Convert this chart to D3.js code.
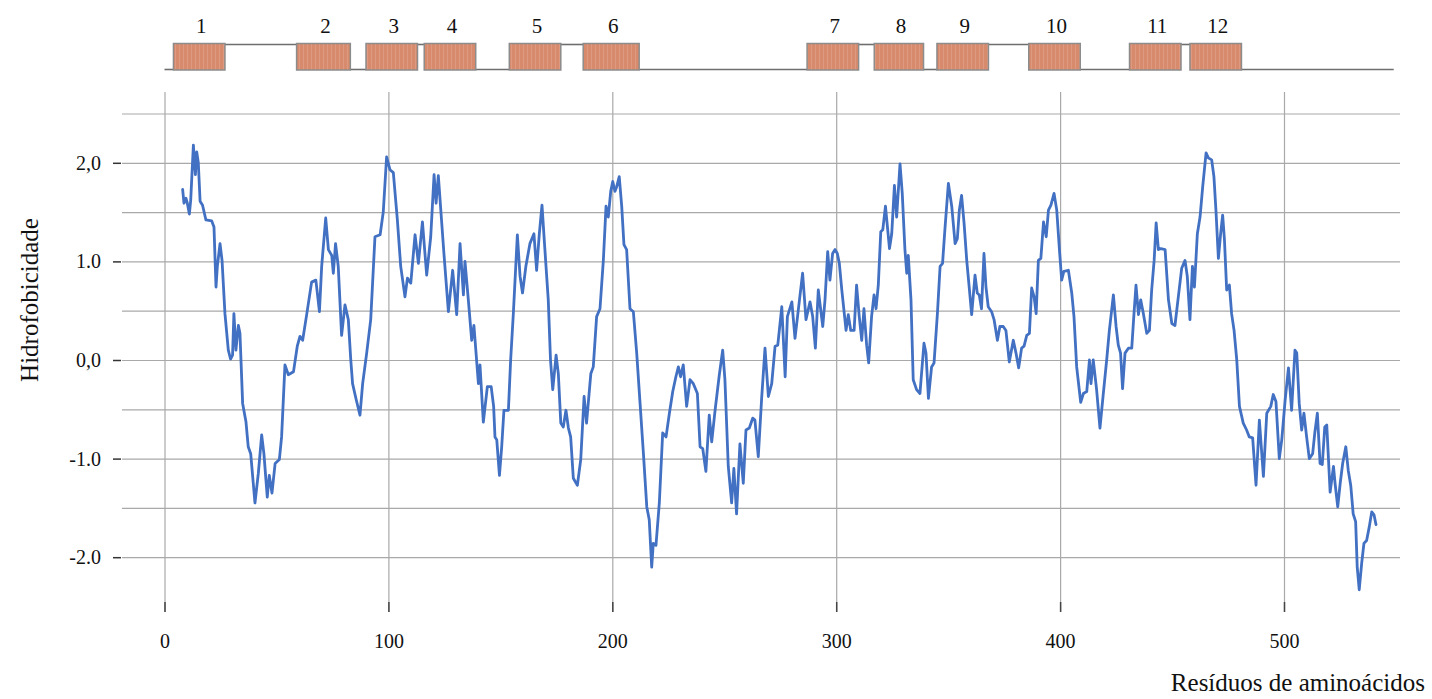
<!DOCTYPE html>
<html><head><meta charset="utf-8">
<script src="https://cdn.jsdelivr.net/npm/d3@7"></script>
<style>body{margin:0;background:#fff}svg{display:block}</style>
</head><body><svg id="c" width="1432" height="699"></svg>
<script>
// ---- data ----
const residues = [8.1,8.7,9.6,10.2,11.1,11.7,12.9,13.8,14.4,15.1,15.9,17,18.5,21.1,22.1,23,23.6,24.8,25.7,27,28.5,29.5,30.4,31,31.9,33,33.7,34.9,36.4,37.4,38.5,40.4,41.9,43.4,44.4,45.9,46.8,48,49.4,51.3,52.3,53.8,55.3,57.6,59.3,60.5,61.7,63.5,65.7,67.6,69.2,70.2,72,73.2,74.7,75.4,76.4,77.6,79.1,80.6,82.1,83.2,84,85.5,87.3,88.5,90.3,92.1,94,96.3,97.7,99.2,100.7,102.2,104,105.5,107.4,108.5,110,111.9,113.4,115.2,117.1,118.9,120.4,121.3,122.3,124.8,126.8,128.7,130.5,132,133.5,134.2,135.7,137.2,138.2,140.2,
140.9,142.4,144.2,145.9,147,147.6,148.4,149.6,150.6,151.6,153.6,154.6,155.8,157.6,158.8,159.9,161.4,163.2,165,166.2,167.4,168.6,169.6,171.4,172.4,173.4,174.9,175.9,177,178.1,179.3,180.4,181.4,182.6,184.4,185.9,187.4,188.5,190.4,191.5,193,194.5,196,197.2,198.2,199.3,200.2,201.2,202,203.1,204.2,205.2,206.4,207.9,209.4,210.9,212.4,213.9,215.4,216.5,217.6,218.3,219.5,221,222.5,224,225.5,227,228.4,229.5,230.5,231.7,233.2,234.7,236.2,238,239.2,240.4,241.8,243.3,244.4,245.9,247.8,249.3,250.3,251.8,253.3,254.3,255.5,257,258.5,259.7,261.2,262.7,263.7,265.2,266.7,268.2,269.7,271.2,272.7,273.9,275.7,277.2,278.2,280.2,281.6,283.6,
285,286.5,288.3,289.5,290.7,292,294,295,296.2,297.2,298.4,299.5,300.5,301.4,302.5,304.4,305.4,306.5,308,309.1,310.3,311.4,312.4,313.6,314.5,315.8,316.9,317.8,318.8,319.9,320.8,322,323.8,324.8,326,327,328.5,329.5,330.7,331.5,332.2,333.4,334.4,335.9,337.4,339.2,340.1,341.2,342.6,343.7,345.2,346.4,347.5,348.6,350.1,351.6,353.1,354.1,355,356,357.1,358.3,359.4,360.5,362,363,363.9,364.9,366,366.9,367.9,369.4,370.5,372,373.1,374.6,375.8,377.3,379.1,380.3,381.5,382.8,383.9,385.1,386.3,387.3,388.4,389.3,390.3,391.4,392.6,393.8,394.8,395.9,397.3,398.5,399.7,400.7,401.7,403.7,405.2,406.2,407.4,409.2,410.4,411.9,413.1,413.8,414.8,416.3,
417.8,419.3,420.8,422,423.8,425,426,427,427.9,429,430.5,432,433,433.9,435,436,437.2,438.7,439.9,440.9,442,442.9,443.9,445,446.9,448.4,449.9,451.3,452.8,454.3,455.8,456.8,458,459.1,460,461.3,462.5,463.7,465.2,466.2,467.7,468.7,469.6,470.7,471.7,472.6,473.4,474.4,475.6,476.6,477.7,478.9,480.1,481.8,483.3,484.5,486,487.5,489,490.8,492.3,494.1,495.2,496.4,497.9,499,500.5,502,503.4,504.9,505.7,506.8,507.9,508.9,510.1,511.3,512.8,513.8,514.9,516.1,517.1,518.2,519.1,520.6,522.1,522.8,524,525.1,526.2,527.6,528.7,529.8,530.9,532,532.7,533.6,534.7,535.7,536.9,538.1,539.2,540.2,541.1];
const hydro = [1.73,1.59,1.64,1.59,1.48,1.62,2.18,1.88,2.11,2.0,1.61,1.57,1.42,1.41,1.35,0.74,0.95,1.18,1.01,0.47,0.10,0.01,0.05,0.47,0.10,0.35,0.27,-0.44,-0.63,-0.88,-0.95,-1.45,-1.15,-0.76,-0.95,-1.39,-1.17,-1.35,-1.05,-1.01,-0.78,-0.05,-0.15,-0.12,0.14,0.24,0.20,0.46,0.79,0.81,0.49,0.95,1.44,1.12,1.06,0.88,1.18,0.95,0.25,0.56,0.41,0.0,-0.24,-0.39,-0.56,-0.24,0.07,0.41,1.25,1.27,1.50,2.06,1.93,1.90,1.42,0.95,0.64,0.83,0.78,1.27,0.98,1.40,0.86,1.25,1.88,1.59,1.87,1.08,0.49,0.91,0.46,1.18,0.66,1.0,0.61,0.20,0.35,-0.24,
-0.05,-0.63,-0.27,-0.27,-0.47,-0.78,-0.81,-1.17,-0.88,-0.51,-0.51,0,0.47,1.27,0.85,0.68,0.95,1.18,1.28,0.91,1.28,1.57,1.22,0.61,0,-0.30,0.05,-0.14,-0.64,-0.68,-0.51,-0.69,-0.78,-1.20,-1.27,-1.01,-0.37,-0.64,-0.14,-0.07,0.44,0.52,1.01,1.56,1.45,1.71,1.81,1.71,1.76,1.86,1.56,1.17,1.12,0.52,0.49,0.07,-0.44,-0.95,-1.49,-1.62,-2.10,-1.86,-1.88,-1.45,-0.74,-0.78,-0.54,-0.32,-0.17,-0.07,-0.17,-0.05,-0.47,-0.20,-0.24,-0.34,-0.88,-0.90,-1.13,-0.56,-0.83,-0.51,-0.15,0.10,-0.20,-1.08,-1.45,-1.10,-1.56,-0.85,-1.25,-0.71,-0.69,-0.59,-0.61,-0.98,-0.39,0.12,-0.37,-0.24,0.14,0.15,0.54,-0.17,0.44,0.59,0.22,0.61,
0.88,0.41,0.59,0.44,0.12,0.71,0.34,0.61,1.10,0.81,1.08,1.12,1.08,0.98,0.71,0.30,0.46,0.30,0.30,0.76,0.44,0.20,0.52,0.15,-0.03,0.44,0.66,0.52,0.76,1.30,1.32,1.56,1.13,1.28,1.77,1.45,1.99,1.69,1.12,0.88,1.06,0.61,-0.20,-0.30,-0.34,0.17,0.07,-0.39,-0.07,-0.03,0.47,0.95,0.98,1.34,1.79,1.56,1.18,1.23,1.52,1.67,1.39,1.01,0.74,0.46,0.86,0.68,0.66,0.52,1.08,0.74,0.54,0.49,0.41,0.20,0.34,0.34,0.30,-0.02,0.20,0.07,-0.08,0.12,0.14,0.25,0.27,0.73,0.64,0.47,1.01,1.03,1.40,1.25,1.52,1.57,1.69,1.52,1.12,0.81,0.90,0.91,0.68,0.44,-0.07,-0.43,-0.34,-0.32,0,-0.24,0,-0.30,
-0.69,-0.34,0,0.30,0.66,0.34,0.15,0.07,-0.29,0.07,0.12,0.12,0.47,0.76,0.46,0.61,0.47,0.27,0.30,0.71,1.01,1.39,1.12,1.13,1.12,0.61,0.37,0.35,0.64,0.93,1.01,0.85,0.41,0.95,0.74,1.28,1.45,1.76,2.10,2.05,2.03,1.86,1.52,1.03,1.28,1.47,1.22,0.71,0.76,0.47,0.30,0,-0.47,-0.64,-0.71,-0.78,-0.79,-1.27,-0.61,-1.18,-0.54,-0.47,-0.35,-0.42,-1.0,-0.81,-0.41,-0.08,-0.51,0.10,0.07,-0.44,-0.71,-0.54,-0.78,-1.0,-0.95,-0.73,-0.54,-1.05,-1.06,-0.68,-0.66,-1.34,-1.08,-1.25,-1.49,-1.25,-1.05,-0.88,-1.12,-1.27,-1.56,-1.64,-2.10,-2.33,-2.06,-1.86,-1.83,-1.69,-1.54,-1.57,-1.67];
const tmLabels = ["1","2","3","4","5","6","7","8","9","10","11","12"];
const tmStart = [4,59,90,116,154,187,287,317,345,386,431,458];
const tmEnd   = [27,83,113,139,177,212,310,339,368,409,454,481];
const seqLength = 549;
const xTicks = [0,100,200,300,400,500];
const yTicks = [2,1,0,-1,-2];
const yTickLabels = ["2,0","1.0","0,0","-1.0","-2.0"];
const yGrid = [2.5,2,1.5,1,0.5,0,-0.5,-1,-1.5,-2];
const xTitle = "Resíduos de aminoácidos";
const yTitle = "Hidrofobicidade";

// ---- drawing ----
const svg = d3.select("#c");
const font = "'Liberation Serif','Times New Roman',serif";
const x = d3.scaleLinear().domain([0,500]).range([164.5,1284]);
const y = d3.scaleLinear().domain([-2,2.5]).range([557.2,113.5]);
const gridColor = "#a9a9a9";

// stripe pattern for TM boxes
const defs = svg.append("defs");
const pat = defs.append("pattern").attr("id","stripes").attr("patternUnits","userSpaceOnUse")
  .attr("width",4).attr("height",4);
pat.append("rect").attr("width",4).attr("height",4).attr("fill","#d88a6c");
pat.append("rect").attr("x",3).attr("width",1).attr("height",4).attr("fill","#dd9a80");

// horizontal gridlines
const gy = svg.append("g").attr("transform","translate(1400,0)")
  .call(d3.axisLeft(y).tickValues(yGrid).tickSize(1400-122).tickFormat(""));
gy.select(".domain").remove();
gy.selectAll(".tick line").attr("stroke",gridColor).attr("stroke-width",1.2);

// vertical gridlines
const gx = svg.append("g").attr("transform","translate(0,612)")
  .call(d3.axisBottom(x).tickValues(xTicks).tickSize(-520).tickFormat(""));
gx.select(".domain").remove();
gx.selectAll(".tick line").attr("stroke",gridColor).attr("stroke-width",1.2);
// dark tick marks + labels at bottom
const gxt = svg.append("g").attr("transform","translate(0,602)")
  .call(d3.axisBottom(x).tickValues(xTicks).tickSize(10).tickPadding(22).tickFormat(d3.format("d")));
gxt.select(".domain").remove();
gxt.selectAll(".tick line").attr("stroke","#444").attr("stroke-width",1.5);
gxt.selectAll(".tick text").attr("font-family",font).attr("font-size",20).attr("fill","#111");

// y tick dashes and labels
const gyt = svg.append("g").attr("transform","translate(121,0)")
  .call(d3.axisLeft(y).tickValues(yTicks).tickSize(8).tickPadding(12)
    .tickFormat((d,i)=>yTickLabels[i]));
gyt.select(".domain").remove();
gyt.selectAll(".tick line").attr("stroke","#333").attr("stroke-width",1.5);
gyt.selectAll(".tick text").attr("font-family",font).attr("font-size",20).attr("fill","#111");

// hydropathy line
const pts = residues.map((r,i)=>[r,hydro[i]]);
svg.append("path").datum(pts)
  .attr("fill","none").attr("stroke","#4270c2").attr("stroke-width",2.8)
  .attr("stroke-linejoin","round").attr("stroke-linecap","round")
  .attr("d", d3.line().x(d=>x(d[0])).y(d=>y(d[1])));

// topology diagram
const yTop = 44.5, yBot = 69.5;
const topo = svg.append("g");
const lineC = "#6e6e6e";
topo.append("line").attr("x1",x(0)).attr("x2",x(tmStart[0])).attr("y1",yBot).attr("y2",yBot)
  .attr("stroke",lineC).attr("stroke-width",1.6);
for (let i=0;i<tmStart.length;i++){
  const nextStart = i<tmStart.length-1 ? tmStart[i+1] : seqLength;
  const ly = (i<tmStart.length-1 && i%2===0) ? yTop : yBot;
  topo.append("line").attr("x1",x(tmEnd[i])).attr("x2",x(nextStart)).attr("y1",ly).attr("y2",ly)
    .attr("stroke",lineC).attr("stroke-width",1.6);
}
topo.selectAll("rect").data(tmStart).join("rect")
  .attr("x",(d)=>x(d)).attr("y",43.5)
  .attr("width",(d,i)=>x(tmEnd[i])-x(d)).attr("height",26.5)
  .attr("fill","url(#stripes)").attr("stroke","#8c8c8c").attr("stroke-width",1.5);
topo.selectAll("text").data(tmLabels).join("text")
  .attr("x",(d,i)=>x((tmStart[i]+tmEnd[i])/2)+2).attr("y",33)
  .attr("text-anchor","middle").attr("font-family",font).attr("font-size",21).attr("fill","#111")
  .text(d=>d);

// titles
svg.append("text").attr("transform","translate(38,300) rotate(-90)")
  .attr("text-anchor","middle").attr("font-family",font).attr("font-size",25).attr("fill","#111")
  .text(yTitle);
svg.append("text").attr("x",1425).attr("y",691).attr("text-anchor","end")
  .attr("font-family",font).attr("font-size",25).attr("fill","#111").text(xTitle);
</script></body></html>
